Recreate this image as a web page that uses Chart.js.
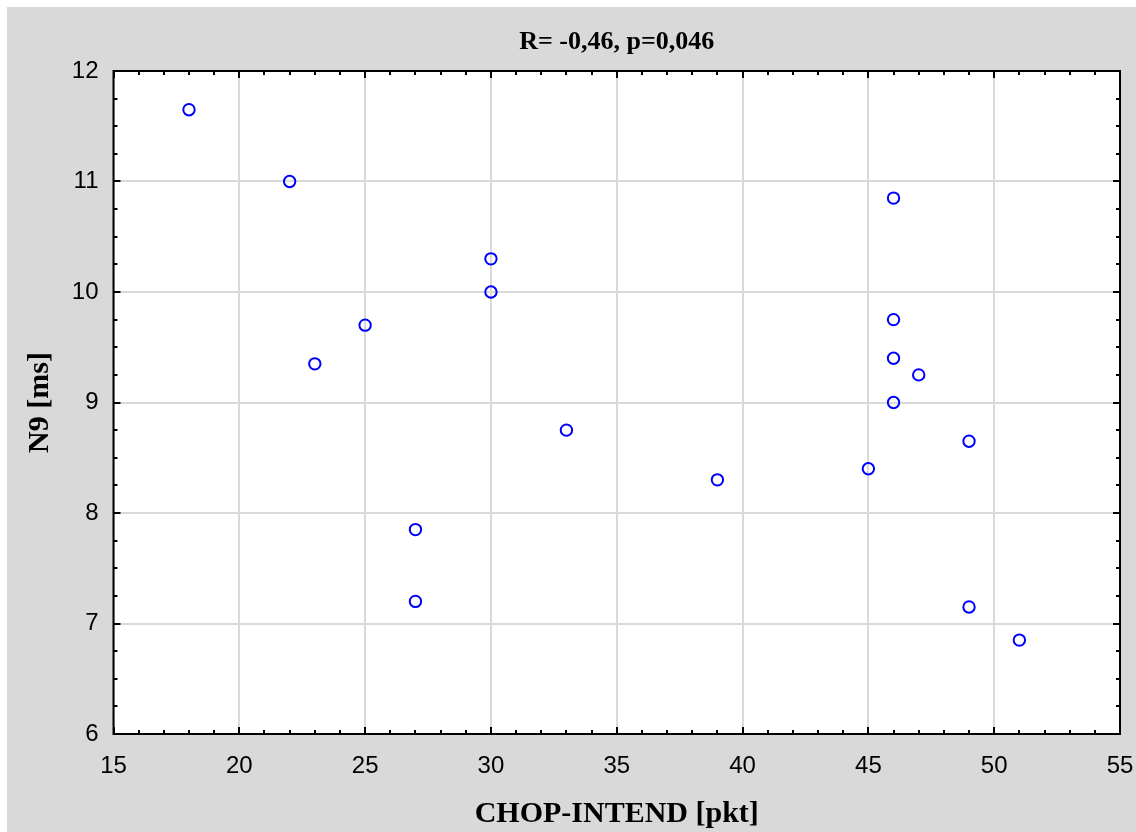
<!DOCTYPE html>
<html>
<head>
<meta charset="utf-8">
<script src="https://cdn.jsdelivr.net/npm/chart.js@4.4.0/dist/chart.umd.min.js"></script>
<style>
  html, body { margin: 0; padding: 0; background: #ffffff; }
  #panel { position: absolute; left: 7px; top: 7px; width: 1129px; height: 825px; background: #d9d9d9; }
  #c { display: block; }
</style>
</head>
<body>
<div id="panel"><canvas id="c" width="1129" height="825"></canvas></div>
<script>
const chartTitle = "R= -0,46, p=0,046";
const xAxisTitle = "CHOP-INTEND [pkt]";
const yAxisTitle = "N9 [ms]";
const chopIntend = [18, 22, 23, 25, 27, 27, 30, 30, 33, 39, 45, 46, 46, 46, 46, 47, 49, 49, 51];
const n9Values   = [11.65, 11.0, 9.35, 9.7, 7.85, 7.2, 10.3, 10.0, 8.75, 8.3, 8.4, 10.85, 9.75, 9.4, 9.0, 9.25, 8.65, 7.15, 6.85];
const xRange = [15, 55, 5, 1];   // min, max, major step, minor step
const yRange = [6, 12, 1, 0.25];

const points = chopIntend.map((x, i) => ({ x: x, y: n9Values[i] }));

const framePlugin = {
  id: 'frame',
  afterDraw(chart) {
    const ctx = chart.ctx, a = chart.chartArea;
    const xs = chart.scales.x, ys = chart.scales.y;
    ctx.save();
    ctx.strokeStyle = '#000';
    ctx.lineWidth = 2;
    ctx.beginPath();
    for (let v = xRange[0]; v <= xRange[1] + 1e-9; v += xRange[3]) {
      const major = Math.abs(v / xRange[2] - Math.round(v / xRange[2])) < 1e-6;
      const len = major ? 7 : 4;
      const px = Math.round(xs.getPixelForValue(v));
      ctx.moveTo(px, a.bottom); ctx.lineTo(px, a.bottom - len);
      ctx.moveTo(px, a.top); ctx.lineTo(px, a.top + len);
    }
    for (let v = yRange[0]; v <= yRange[1] + 1e-9; v += yRange[3]) {
      const major = Math.abs(v / yRange[2] - Math.round(v / yRange[2])) < 1e-6;
      const len = major ? 7 : 4;
      const py = Math.round(ys.getPixelForValue(v));
      ctx.moveTo(a.left, py); ctx.lineTo(a.left + len, py);
      ctx.moveTo(a.right, py); ctx.lineTo(a.right - len, py);
    }
    ctx.stroke();
    ctx.strokeRect(a.left, a.top, a.right - a.left, a.bottom - a.top);
    ctx.fillStyle = '#000';
    ctx.font = 'bold 26px "Liberation Serif", "Times New Roman", serif';
    ctx.textAlign = 'center';
    ctx.textBaseline = 'middle';
    ctx.fillText(chartTitle, (a.left + a.right) / 2, 35);
    ctx.restore();
  }
};

const bgPlugin = {
  id: 'bg',
  beforeDraw(chart) {
    const ctx = chart.ctx, a = chart.chartArea;
    ctx.save();
    ctx.fillStyle = '#ffffff';
    ctx.fillRect(a.left, a.top, a.right - a.left, a.bottom - a.top);
    ctx.restore();
  }
};

new Chart(document.getElementById('c'), {
  type: 'scatter',
  data: {
    datasets: [{
      data: points,
      pointStyle: 'circle',
      pointRadius: 5.7,
      pointHoverRadius: 5.7,
      pointBorderWidth: 2,
      pointBorderColor: '#0000ff',
      pointBackgroundColor: 'rgba(255,255,255,0)'
    }]
  },
  options: {
    responsive: false,
    animation: false,
    events: [],
    layout: { padding: { left: 0, top: 64, right: 16, bottom: 0 } },
    plugins: { legend: { display: false }, tooltip: { enabled: false }, title: { display: false } },
    scales: {
      x: {
        type: 'linear', min: xRange[0], max: xRange[1],
        ticks: { stepSize: xRange[2], color: '#000', padding: 18,
                 font: { family: '"Liberation Sans", Arial, sans-serif', size: 24 } },
        grid: { color: '#dadada', lineWidth: 2, drawTicks: false },
        border: { display: false },
        title: { display: true, text: xAxisTitle, color: '#000',
                 font: { family: '"Liberation Serif", "Times New Roman", serif', size: 30, weight: 'bold' },
                 padding: { top: 13, bottom: 0 } },
        afterFit(s) { s.height = 98; s.paddingLeft = 0; s.paddingRight = 0; }
      },
      y: {
        type: 'linear', min: yRange[0], max: yRange[1],
        ticks: { stepSize: yRange[2], color: '#000', padding: 15,
                 font: { family: '"Liberation Sans", Arial, sans-serif', size: 24 } },
        grid: { color: '#dadada', lineWidth: 2, drawTicks: false },
        border: { display: false },
        title: { display: true, text: yAxisTitle, color: '#000',
                 font: { family: '"Liberation Serif", "Times New Roman", serif', size: 30, weight: 'bold' },
                 padding: { top: 15, bottom: 0 } },
        afterFit(s) { s.width = 106.5; s.paddingTop = 0; s.paddingBottom = 0; }
      }
    }
  },
  plugins: [bgPlugin, framePlugin]
});
</script>
</body>
</html>
